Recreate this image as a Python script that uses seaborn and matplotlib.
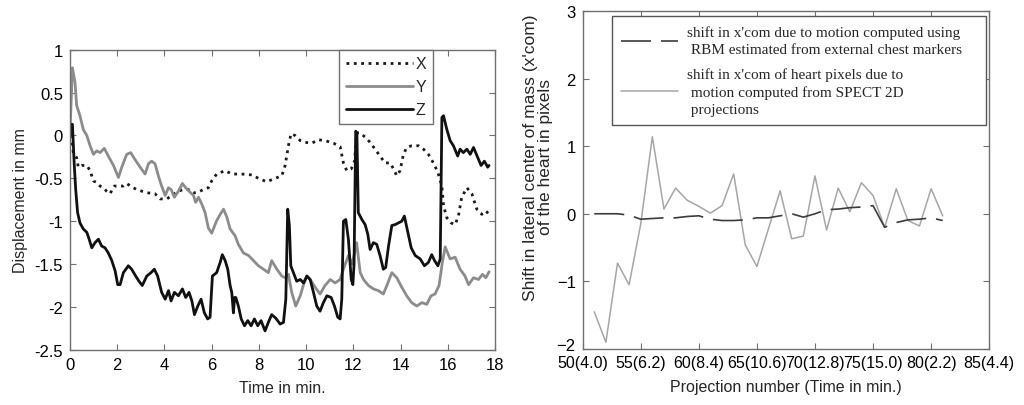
import matplotlib
matplotlib.use("Agg")
import matplotlib.pyplot as plt
import matplotlib.transforms as mtransforms
from matplotlib.lines import Line2D
from matplotlib.ticker import FormatStrFormatter
import pandas as pd
import seaborn as sns

# ---------------------------------------------------------------------------
# Left panel: displacement traces (time in min, displacement in mm)
# ---------------------------------------------------------------------------
x_trace = [
    (0.0, 0.0), (0.04, -0.04), (0.14, -0.2), (0.28, -0.26), (0.35, -0.37), (0.49, -0.35),
    (0.71, -0.35), (0.85, -0.41), (0.99, -0.53), (1.13, -0.55), (1.27, -0.59), (1.41, -0.61),
    (1.55, -0.65), (1.69, -0.68), (1.88, -0.59), (2.05, -0.59), (2.26, -0.59), (2.4, -0.56),
    (2.61, -0.6), (2.82, -0.63), (3.04, -0.65), (3.32, -0.67), (3.6, -0.68), (3.81, -0.74),
    (4.1, -0.74), (4.31, -0.7), (4.59, -0.65), (4.8, -0.63), (5.01, -0.63), (5.23, -0.67),
    (5.44, -0.66), (5.65, -0.63), (5.86, -0.61), (6.0, -0.53), (6.21, -0.45), (6.57, -0.41),
    (6.85, -0.45), (7.27, -0.45), (7.7, -0.46), (7.98, -0.5), (8.33, -0.54), (8.69, -0.5),
    (8.97, -0.47), (9.11, -0.35), (9.25, -0.12), (9.36, 0.02), (9.53, 0.0), (9.75, -0.06),
    (9.96, -0.08), (10.24, -0.09), (10.52, -0.05), (10.8, -0.06), (11.16, -0.09), (11.44, -0.13),
    (11.58, -0.32), (11.72, -0.41), (11.91, -0.39), (12.05, -0.3), (12.14, 0.03), (12.29, 0.03),
    (12.5, -0.02), (12.71, -0.08), (12.92, -0.16), (13.13, -0.24), (13.34, -0.32), (13.56, -0.32),
    (13.7, -0.39), (13.84, -0.47), (13.98, -0.41), (14.12, -0.22), (14.26, -0.14), (14.47, -0.12),
    (14.76, -0.12), (14.97, -0.16), (15.18, -0.22), (15.39, -0.32), (15.58, -0.43), (15.75, -0.59),
    (15.82, -0.82), (15.96, -0.96), (16.14, -1.02), (16.31, -1.04), (16.45, -0.94), (16.59, -0.72),
    (16.81, -0.61), (17.02, -0.68), (17.23, -0.86), (17.44, -0.92), (17.61, -0.88), (17.75, -0.92),
]

y_trace = [
    (0.0, 0.05), (0.1, 0.79), (0.21, 0.62), (0.28, 0.35), (0.42, 0.23), (0.56, 0.07),
    (0.71, 0.0), (0.85, -0.12), (0.99, -0.22), (1.13, -0.18), (1.27, -0.2), (1.45, -0.15),
    (1.62, -0.24), (1.84, -0.35), (2.05, -0.49), (2.19, -0.37), (2.4, -0.22), (2.57, -0.2),
    (2.75, -0.28), (2.97, -0.37), (3.18, -0.45), (3.32, -0.33), (3.46, -0.3), (3.6, -0.33),
    (3.74, -0.47), (3.88, -0.59), (4.03, -0.7), (4.17, -0.61), (4.28, -0.63), (4.42, -0.72),
    (4.59, -0.65), (4.76, -0.56), (4.9, -0.61), (5.04, -0.65), (5.23, -0.7), (5.32, -0.78),
    (5.44, -0.72), (5.58, -0.8), (5.72, -0.9), (5.86, -1.08), (6.0, -1.14), (6.2, -1.0),
    (6.36, -0.92), (6.5, -0.86), (6.64, -0.95), (6.78, -1.09), (6.99, -1.17), (7.13, -1.27),
    (7.34, -1.37), (7.56, -1.4), (7.77, -1.46), (7.98, -1.52), (8.19, -1.56), (8.4, -1.6),
    (8.54, -1.46), (8.76, -1.56), (8.97, -1.64), (9.11, -1.66), (9.25, -1.62), (9.39, -1.83),
    (9.56, -1.99), (9.75, -1.87), (9.89, -1.74), (10.03, -1.64), (10.17, -1.68), (10.38, -1.77),
    (10.59, -1.85), (10.8, -1.75), (11.02, -1.68), (11.23, -1.72), (11.44, -1.68), (11.58, -1.56),
    (11.79, -1.4), (11.95, -1.5), (12.14, -1.25), (12.29, -1.6), (12.43, -1.68), (12.64, -1.75),
    (12.85, -1.79), (13.06, -1.81), (13.27, -1.85), (13.42, -1.75), (13.63, -1.6), (13.84, -1.66),
    (14.05, -1.77), (14.26, -1.87), (14.47, -1.95), (14.69, -1.99), (14.9, -1.95), (15.11, -1.97),
    (15.29, -1.87), (15.46, -1.85), (15.63, -1.75), (15.77, -1.48), (15.89, -1.3), (16.1, -1.44),
    (16.31, -1.42), (16.52, -1.56), (16.73, -1.64), (16.88, -1.74), (17.09, -1.66), (17.3, -1.68),
    (17.47, -1.62), (17.61, -1.66), (17.75, -1.59),
]

z_trace = [
    (0.0, 0.0), (0.04, 0.13), (0.1, 0.13), (0.18, -0.35), (0.24, -0.63), (0.32, -0.9),
    (0.42, -1.02), (0.56, -1.09), (0.71, -1.13), (0.81, -1.21), (0.92, -1.31), (1.06, -1.25),
    (1.2, -1.21), (1.34, -1.29), (1.48, -1.31), (1.62, -1.37), (1.77, -1.46), (1.91, -1.58),
    (2.02, -1.74), (2.12, -1.74), (2.26, -1.6), (2.47, -1.52), (2.61, -1.56), (2.78, -1.64),
    (2.92, -1.7), (3.06, -1.75), (3.25, -1.64), (3.43, -1.6), (3.57, -1.56), (3.71, -1.64),
    (3.88, -1.83), (4.03, -1.91), (4.17, -1.81), (4.28, -1.93), (4.42, -1.83), (4.59, -1.87),
    (4.76, -1.79), (4.9, -1.89), (5.04, -1.83), (5.16, -1.93), (5.27, -2.09), (5.41, -1.99),
    (5.55, -1.91), (5.69, -2.07), (5.83, -2.14), (5.93, -2.12), (6.03, -1.64), (6.21, -1.6),
    (6.36, -1.48), (6.45, -1.39), (6.57, -1.46), (6.68, -1.56), (6.78, -1.75), (6.85, -1.83),
    (6.92, -2.07), (6.97, -1.89), (7.02, -1.89), (7.13, -1.99), (7.25, -2.14), (7.39, -2.22),
    (7.53, -2.16), (7.67, -2.22), (7.81, -2.14), (7.95, -2.22), (8.09, -2.16), (8.26, -2.28),
    (8.4, -2.18), (8.54, -2.09), (8.71, -2.13), (8.9, -2.2), (9.04, -2.18), (9.14, -1.91),
    (9.22, -0.86), (9.29, -1.05), (9.35, -1.52), (9.46, -1.6), (9.6, -1.7), (9.75, -1.68),
    (9.89, -1.72), (10.03, -1.64), (10.17, -1.68), (10.31, -1.83), (10.45, -1.99), (10.59, -2.05),
    (10.73, -1.95), (10.88, -1.87), (11.06, -1.89), (11.2, -1.99), (11.34, -2.12), (11.44, -2.14),
    (11.51, -1.91), (11.58, -1.0), (11.68, -0.98), (11.79, -1.21), (11.91, -1.68), (11.98, -1.74),
    (12.03, -1.5), (12.1, 0.05), (12.15, 0.03), (12.21, -0.9), (12.36, -0.98), (12.5, -1.04),
    (12.61, -1.15), (12.71, -1.33), (12.85, -1.25), (12.99, -1.27), (13.13, -1.4), (13.27, -1.56),
    (13.37, -1.54), (13.49, -1.29), (13.63, -1.05), (13.77, -1.04), (13.91, -1.02), (14.05, -1.0),
    (14.16, -0.94), (14.31, -1.13), (14.45, -1.31), (14.62, -1.4), (14.83, -1.44), (15.01, -1.52),
    (15.18, -1.48), (15.32, -1.39), (15.44, -1.46), (15.58, -1.52), (15.68, -1.44), (15.75, 0.21),
    (15.82, 0.23), (15.96, 0.07), (16.1, -0.06), (16.24, -0.12), (16.42, -0.24), (16.52, -0.16),
    (16.66, -0.2), (16.81, -0.16), (16.95, -0.22), (17.09, -0.14), (17.27, -0.26), (17.41, -0.35),
    (17.55, -0.3), (17.69, -0.37), (17.75, -0.35),
]

# ---------------------------------------------------------------------------
# Right panel: shift in x'com per projection
# ---------------------------------------------------------------------------
projection = list(range(51, 82))
shift_spect = [-1.45, -1.9, -0.73, -1.05, -0.15, 1.14, 0.07, 0.38, 0.2, 0.11, 0.01,
               0.12, 0.59, -0.46, -0.78, -0.22, 0.34, -0.37, -0.33, 0.56, -0.24,
               0.38, 0.03, 0.46, 0.27, -0.2, 0.37, -0.1, -0.18, 0.37, -0.03]
shift_rbm = [0.0, 0.0, 0.0, -0.02, -0.08, -0.07, -0.06, -0.06, -0.04, -0.03, -0.08,
             -0.1, -0.1, -0.09, -0.06, -0.06, -0.03, 0.0, -0.05, 0.0, 0.06,
             0.07, 0.09, 0.1, 0.12, -0.2, -0.13, -0.09, -0.08, -0.06, -0.1]
proj_ticks = [50, 55, 60, 65, 70, 75, 80, 85]
proj_tick_labels = ["50(4.0)", "55(6.2)", "60(8.4)", "65(10.6)",
                    "70(12.8)", "75(15.0)", "80(2.2)", "85(4.4)"]

rbm_label = "shift in x'com due to motion computed using\n RBM estimated from external chest markers"
spect_label = "shift in x'com of heart pixels due to\n motion computed from SPECT 2D\n projections"


def to_frame(trace):
    return pd.DataFrame(trace, columns=["t", "v"])


sns.set_style("ticks")
plt.rcParams["font.family"] = ["Liberation Sans", "DejaVu Sans"]
plt.rcParams.update({
    "xtick.direction": "in", "ytick.direction": "in",
    "xtick.top": True, "ytick.right": True,
    "xtick.major.size": 4, "ytick.major.size": 4,
    "xtick.color": "#707070", "ytick.color": "#707070",
    "xtick.labelcolor": "black", "ytick.labelcolor": "black",
    "axes.edgecolor": "#707070", "axes.linewidth": 1.0,
})

fig = plt.figure(figsize=(10.24, 4.06), dpi=100)
ax1 = fig.add_axes([0.0684, 0.136, 0.415, 0.739])
ax2 = fig.add_axes([0.569, 0.138, 0.397, 0.8325])

# --- left panel
sns.lineplot(data=to_frame(x_trace), x="t", y="v", ax=ax1, color="#1a1a1a",
             linestyle=":", linewidth=2.0, estimator=None)
sns.lineplot(data=to_frame(y_trace), x="t", y="v", ax=ax1, color="#8c8c8c",
             linewidth=2.0, estimator=None)
sns.lineplot(data=to_frame(z_trace), x="t", y="v", ax=ax1, color="#111111",
             linewidth=2.0, estimator=None)
ax1.set_xlim(0, 18)
ax1.set_ylim(-2.5, 1)
ax1.set_xticks(range(0, 19, 2))
ax1.set_yticks([-2.5, -2, -1.5, -1, -0.5, 0, 0.5, 1])
ax1.yaxis.set_major_formatter(FormatStrFormatter("%g"))
ax1.tick_params(labelsize=12, pad=5)
ax1.set_xlabel("Time in min.", fontsize=11.5, labelpad=6)
ax1.set_ylabel("Displacement in mm", fontsize=11.5, labelpad=5)

h_left = [Line2D([], [], color="#1a1a1a", linestyle=":", linewidth=2.0),
          Line2D([], [], color="#8c8c8c", linewidth=2.0),
          Line2D([], [], color="#111111", linewidth=2.0)]
leg1 = ax1.legend(h_left, ["X", "Y", "Z"], loc="upper right",
                  bbox_to_anchor=(0.854, 1.0), borderaxespad=0, fontsize=11.5,
                  handlelength=4.2, handletextpad=0.2, labelspacing=0.5,
                  fancybox=False, framealpha=1, edgecolor="#707070")
leg1.get_frame().set_linewidth(1.0)

# --- right panel
sns.lineplot(x=projection, y=shift_spect, ax=ax2, color="#a6a6a6",
             linewidth=1.1, estimator=None)
sns.lineplot(x=projection, y=shift_rbm, ax=ax2, color="#3c3c3c",
             linewidth=1.2, estimator=None)
ax2.lines[-1].set_dashes((18, 6))
ax2.set_xlim(50, 85)
ax2.set_ylim(-2, 3)
ax2.set_xticks(proj_ticks)
ax2.set_xticklabels(proj_tick_labels)
ax2.set_yticks(range(-2, 4))
ax2.tick_params(axis="x", labelsize=11.5, pad=4)
ax2.tick_params(axis="y", labelsize=12, pad=5)
# lift the bottom y label a little, as in the original
lift = mtransforms.ScaledTranslation(0, 5 / 100, fig.dpi_scale_trans)
ylab0 = ax2.get_yticklabels()[0]
ylab0.set_transform(ylab0.get_transform() + lift)
ax2.set_xlabel("Projection number (Time in min.)", fontsize=11.5, labelpad=7)
ax2.set_ylabel("Shift in lateral center of mass (x'com)\nof the heart in pixels",
               fontsize=12.5, linespacing=1.0)
ax2.yaxis.set_label_coords(-0.074, 0.57)

h_rbm = Line2D([], [], color="#3c3c3c", linewidth=1.2, dashes=(18, 6))
h_spect = Line2D([], [], color="#a6a6a6", linewidth=1.1)
leg2 = ax2.legend([h_rbm, h_spect], [rbm_label, spect_label], loc="upper left",
                  bbox_to_anchor=(0.073, 0.651, 0.919, 0.333), mode="expand",
                  borderaxespad=0,
                  prop={"family": ["Liberation Serif", "DejaVu Serif"], "size": 11},
                  handlelength=3.7, handletextpad=0.6, labelspacing=0.7,
                  borderpad=0.6, fancybox=False, framealpha=1, edgecolor="#555555")
leg2.get_frame().set_linewidth(1.0)
for txt in leg2.get_texts():
    txt.set_linespacing(1.4)

fig.savefig("out.png", dpi=100)
